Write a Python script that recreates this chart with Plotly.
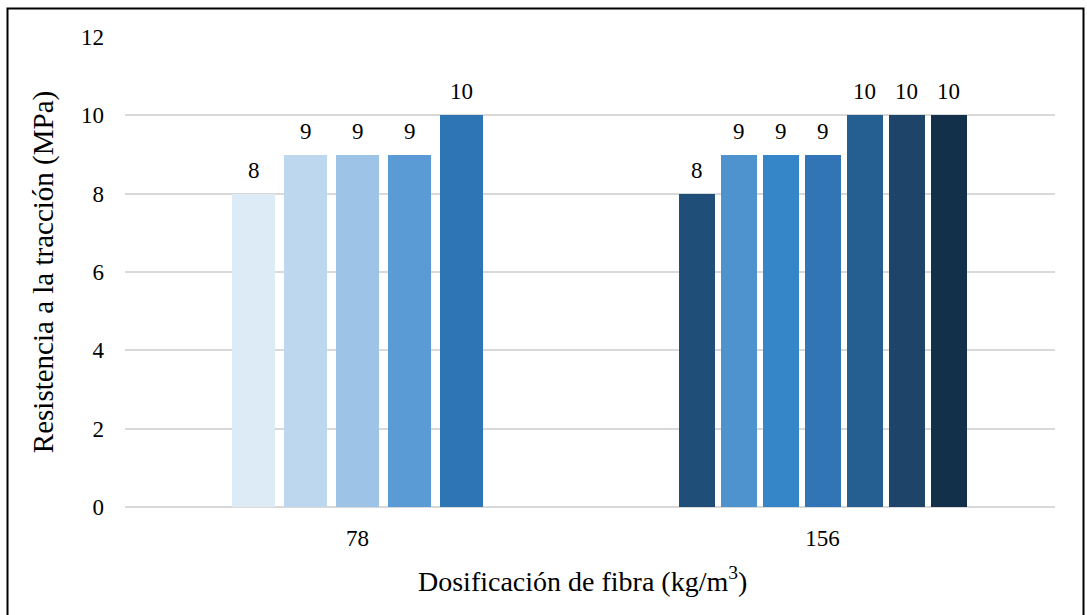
import plotly.graph_objects as go

# Fibre dosage groups (kg/m3) and tensile strength of each specimen (MPa)
dosificaciones = ["78", "156"]
resistencia_78 = [8, 9, 9, 9, 10]
resistencia_156 = [8, 9, 9, 9, 10, 10, 10]

colores_78 = ["#DDEBF7", "#BDD7EE", "#9DC3E6", "#5B9BD5", "#2E75B6"]
colores_156 = ["#1F4E79", "#4E92CE", "#3585C9", "#3275B6", "#255F91", "#1E4469", "#13304B"]

y_ticks = [0, 2, 4, 6, 8, 10, 12]

FONT = "Liberation Serif, Times New Roman, serif"

# bar pitch and width per group, in category units
grupos = [
    (0, resistencia_78, colores_78, 52 / 465, 43.5 / 465),
    (1, resistencia_156, colores_156, 42 / 465, 36 / 465),
]

fig = go.Figure()
annotations = []
for centro, valores, colores, paso, ancho in grupos:
    n = len(valores)
    xs = [centro + (i - (n - 1) / 2) * paso for i in range(n)]
    fig.add_trace(go.Bar(
        x=xs, y=valores, width=[ancho] * n,
        marker=dict(color=colores, line=dict(width=0)),
        showlegend=False, hoverinfo="y",
    ))
    for x, v in zip(xs, valores):
        annotations.append(dict(
            x=x, y=v, xref="x", yref="y", text=str(v), showarrow=False,
            yanchor="bottom", yshift=9,
            font=dict(family=FONT, size=23, color="#000000"),
        ))

# x-axis title, placed slightly left of the plot centre
annotations.append(dict(
    x=0.492, y=-0.155, xref="paper", yref="paper",
    xanchor="center", yanchor="middle", showarrow=False,
    text="Dosificación de fibra (kg/m<sup>3</sup>)",
    font=dict(family=FONT, size=28, color="#000000"),
))

fig.update_layout(
    width=1087, height=615,
    margin=dict(l=125, r=32, t=37, b=108),
    paper_bgcolor="white", plot_bgcolor="white",
    font=dict(family=FONT, size=23, color="#000000"),
    bargap=0,
    annotations=annotations,
    shapes=[dict(
        type="rect", xref="paper", yref="paper",
        x0=(7.5 - 125) / 930, x1=(1083.5 - 125) / 930,
        y0=(507 - 625) / 470, y1=(507 - 8.5) / 470,
        line=dict(color="#000000", width=2), fillcolor="rgba(0,0,0,0)",
        layer="below",
    )],
    xaxis=dict(
        range=[-0.5, 1.5], tickvals=[0, 1], ticktext=dosificaciones,
        showgrid=False, zeroline=False, showline=False, ticks="",
        ticklabelstandoff=15,
        tickfont=dict(family=FONT, size=23),
    ),
    yaxis=dict(
        range=[0, 12], tickvals=y_ticks,
        showgrid=True, gridcolor="#D9D9D9", gridwidth=1.5,
        zeroline=True, zerolinecolor="#D9D9D9", zerolinewidth=1.5,
        showline=False, ticks="",
        ticklabelstandoff=20,
        tickfont=dict(family=FONT, size=23),
        title=dict(text="Resistencia a la tracción (MPa)",
                   font=dict(family=FONT, size=29), standoff=18),
    ),
)

fig.write_html("out.html")
